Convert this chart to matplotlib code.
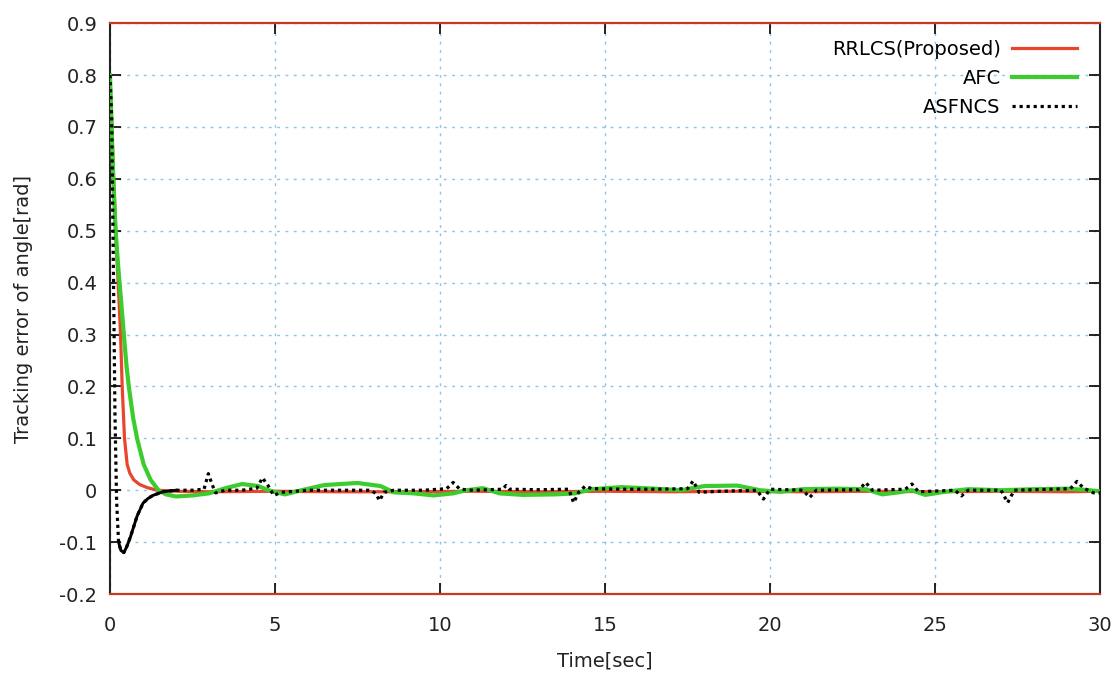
import numpy as np
import matplotlib
matplotlib.use('Agg')
import matplotlib.pyplot as plt

# RRLCS (Proposed)
t_rrlcs = [0, 0.1, 0.2, 0.27, 0.32, 0.37, 0.44, 0.52, 0.6, 0.72, 0.9, 1.13, 1.43, 2.0,
           3, 5, 7, 9, 11, 13, 15, 17, 19, 21, 23, 25, 27, 29, 30]
e_rrlcs = [0.8, 0.62, 0.46, 0.37, 0.3, 0.2, 0.1, 0.05, 0.033, 0.02, 0.011, 0.005, 0.0, -0.002,
           -0.003, -0.002, -0.003, -0.003, -0.002, -0.003, -0.002, -0.003, -0.002, -0.003,
           -0.002, -0.003, -0.002, -0.003, -0.002]

# AFC
t_afc = [0, 0.05, 0.1, 0.17, 0.25, 0.33, 0.42, 0.5, 0.57, 0.7, 0.82, 1.02, 1.23, 1.47, 1.7,
         2.0, 2.5, 3.0, 3.5, 4.0, 4.5, 4.8, 5.3, 5.8, 6.5, 7.5, 8.2, 8.6, 9.2, 9.8, 10.4, 10.8,
         11.3, 11.8, 12.5, 13.5, 14.1, 14.6, 15.5, 16.5, 17.3, 18.0, 19.0, 19.7, 20.3, 21.0,
         22.0, 22.9, 23.4, 23.9, 24.3, 24.7, 25.3, 26.0, 27.0, 28.0, 29.0, 29.5, 30]
e_afc = [0.8, 0.7, 0.6, 0.5, 0.43, 0.37, 0.3, 0.24, 0.2, 0.14, 0.1, 0.05, 0.02, 0.0, -0.008,
         -0.012, -0.01, -0.006, 0.004, 0.012, 0.008, 0.0, -0.008, 0.0, 0.01, 0.014, 0.008, -0.004,
         -0.006, -0.01, -0.006, 0.0, 0.004, -0.006, -0.009, -0.008, -0.006, 0.002, 0.006, 0.003,
         0.0, 0.008, 0.009, 0.0, -0.003, 0.002, 0.003, 0.002, -0.008, -0.004, 0.0, -0.009,
         -0.003, 0.002, 0.0, 0.002, 0.003, 0.001, -0.002]

# ASFNCS
t_asf = [0, 0.05, 0.1, 0.15, 0.2, 0.26, 0.33, 0.42, 0.5, 0.62, 0.72, 0.82, 1.0, 1.15, 1.3,
         1.6, 2.0, 2.5, 2.85, 2.98, 3.1, 3.2, 3.5, 4.0, 4.45, 4.62, 4.8, 4.96, 5.2, 6.0, 7.0,
         7.9, 8.05, 8.17, 8.3, 8.6, 9.5, 10.2, 10.4, 10.6, 11.0, 11.9, 12.0, 12.1, 13.0, 13.9,
         14.05, 14.2, 14.4, 14.6, 15.5, 16.5, 17.5, 17.67, 17.85, 18.5, 19.6, 19.8, 20.0, 21.0,
         21.2, 21.4, 22.7, 22.9, 23.1, 24.1, 24.3, 24.5, 25.6, 25.8, 26.0, 27.0, 27.2, 27.4,
         29.1, 29.3, 29.5, 29.8, 30]
e_asf = [0.8, 0.72, 0.45, 0.15, -0.02, -0.1, -0.116, -0.12, -0.11, -0.09, -0.07, -0.05,
         -0.025, -0.016, -0.01, -0.003, 0.0, 0.0, 0.002, 0.032, 0.01, -0.005, 0.0, 0.0, 0.004,
         0.024, 0.008, -0.01, -0.004, 0.0, 0.0, 0.0, -0.006, -0.02, -0.004, 0.0, 0.0, 0.003,
         0.015, 0.002, 0.0, 0.002, 0.009, 0.002, 0.001, 0.002, -0.024, -0.004, 0.008, 0.003,
         0.002, 0.002, 0.003, 0.018, -0.004, -0.002, 0.0, -0.017, 0.002, 0.0, -0.014, 0.0,
         0.001, 0.015, 0.0, 0.002, 0.012, -0.003, 0.0, -0.011, 0.0, 0.0, -0.024, 0.0, 0.003,
         0.017, 0.004, -0.005, -0.005]

y_ticks = [-0.2, -0.1, 0, 0.1, 0.2, 0.3, 0.4, 0.5, 0.6, 0.7, 0.8, 0.9]
y_labels = ['-0.2', '-0.1', '0', '0.1', '0.2', '0.3', '0.4', '0.5', '0.6', '0.7', '0.8', '0.9']

plt.rcParams['font.family'] = ['DejaVu Sans']
fig = plt.figure(figsize=(11.2, 6.82), dpi=100)
ax = fig.add_axes([0.0982, 0.129, 0.884, 0.837])

ax.plot(t_rrlcs, e_rrlcs, color='#e8452c', lw=2.3, label='RRLCS(Proposed)', zorder=3)
ax.plot(t_afc, e_afc, color='#3dcc2e', lw=3.0, label='AFC', zorder=4)
ax.plot(t_asf, e_asf, color='black', lw=2.3, ls=(0, (1, 1.2)), label='ASFNCS', zorder=5)
# recovery part looks solid in the original (dense dots)
seg = slice(5, 17)
ax.plot(t_asf[seg], e_asf[seg], color='black', lw=2.1, zorder=5)

ax.set_xlim(0, 30)
ax.set_ylim(-0.2, 0.9)
ax.set_xticks(np.arange(0, 31, 5))
ax.set_yticks(y_ticks)
ax.set_yticklabels(y_labels)
ax.grid(True, color='#8cc4e4', ls=(0, (2, 4)), lw=1.0)
ax.tick_params(direction='in', length=8, width=1.2, top=True, right=True,
               labelsize=14, labelcolor='#222222')
ax.tick_params(axis='y', pad=9)
ax.tick_params(axis='x', pad=16)
for s in ['left', 'right']:
    ax.spines[s].set_color('#222222')
    ax.spines[s].set_linewidth(1.5)
for s in ['top', 'bottom']:
    ax.spines[s].set_color('#c83a28')
    ax.spines[s].set_linewidth(1.6)

ax.set_xlabel('Time[sec]', fontsize=14, color='#222222', labelpad=12)
ax.set_ylabel('Tracking error of angle[rad]', fontsize=14, color='#222222', labelpad=19)

leg = ax.legend(loc='upper right', bbox_to_anchor=(0.985, 0.984), frameon=False,
                markerfirst=False, fontsize=14, handlelength=3.35, handletextpad=0.6,
                borderaxespad=0, borderpad=0.4, labelspacing=0.5)
for txt in leg.get_texts():
    txt.set_ha('right')

fig.savefig('out.png', dpi=100, facecolor='white')
